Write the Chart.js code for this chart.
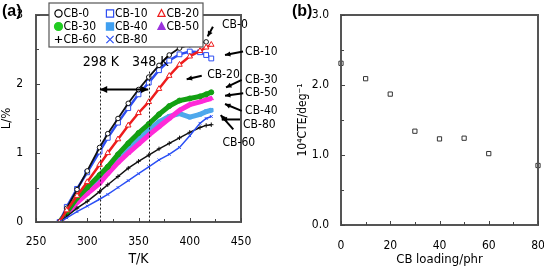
<!DOCTYPE html>
<html lang="en">
<head>
  <meta charset="UTF-8" />
  <title>Thermal expansion vs CB loading</title>
  <script src="https://cdn.jsdelivr.net/npm/chart.js"></script>
  <style>
    body {
      margin: 0;
      background: #ffffff;
    }

    .wrap {
      position: relative;
      width: 544px;
      height: 266px;
    }

    .panel {
      position: absolute;
      top: 0;
      height: 266px;
    }

    .panel canvas {
      position: relative;
      z-index: 1;
    }

    .deco {
      position: absolute;
      left: 0;
      top: 0;
      z-index: 0;
    }

    #panelA { left: 0; width: 285px; }
    #panelB { left: 285px; width: 259px; }
  </style>
</head>
<body>

  <div class="wrap">
    <div class="panel" id="panelA"><div class="deco"></div><canvas id="expChart"></canvas></div>
    <div class="panel" id="panelB"><div class="deco"></div><canvas id="cteChart"></canvas></div>
  </div>

  <script>
    // ---- data ----
    // panel (a): elongation L/% against temperature T/K
    const temps = [273, 280, 290, 300, 312, 320, 330, 340, 350, 360, 370, 380, 390, 400, 410, 416, 421];
    const cb0  = [0, 0.20, 0.47, 0.74, 1.08, 1.28, 1.50, 1.72, 1.92, 2.10, 2.27, 2.42, 2.52, 2.57, 2.60, 2.61, null];
    const cb10 = [0, 0.22, 0.48, 0.72, 1.02, 1.22, 1.44, 1.65, 1.85, 2.02, 2.20, 2.34, 2.43, 2.47, 2.46, 2.42, 2.37];
    const cb20 = [0, 0.17, 0.38, 0.58, 0.83, 1.00, 1.20, 1.40, 1.58, 1.74, 1.93, 2.12, 2.28, 2.40, 2.48, 2.53, 2.57];
    const cb30 = [0, 0.14, 0.35, 0.50, 0.68, 0.80, 0.98, 1.14, 1.29, 1.42, 1.56, 1.68, 1.76, 1.79, 1.82, 1.85, 1.88];
    const cb40 = [0, 0.13, 0.32, 0.47, 0.64, 0.76, 0.92, 1.06, 1.20, 1.33, 1.45, 1.53, 1.57, 1.52, 1.56, 1.60, 1.62];
    const cb50 = [0, 0.11, 0.28, 0.41, 0.56, 0.70, 0.86, 1.00, 1.13, 1.26, 1.38, 1.50, 1.62, 1.70, 1.74, 1.77, 1.79];
    const cb60 = [0, 0.08, 0.20, 0.30, 0.44, 0.54, 0.66, 0.78, 0.88, 0.97, 1.06, 1.14, 1.22, 1.30, 1.37, 1.40, 1.41];
    const cb80 = [0, 0.06, 0.15, 0.23, 0.33, 0.40, 0.50, 0.60, 0.70, 0.80, 0.90, 0.98, 1.08, 1.25, 1.43, 1.50, 1.53];
    const seriesNames = ['CB-0', 'CB-10', 'CB-20', 'CB-30', 'CB-40', 'CB-50', 'CB-60', 'CB-80'];
    const seriesValues = [cb0, cb10, cb20, cb30, cb40, cb50, cb60, cb80];
    const markLabels = ['298 K', '348 K'];
    const markTemps = [312.4, 360.5];

    // panel (b): CTE against CB loading
    const loadings = [0, 10, 20, 30, 40, 50, 60, 80];
    const cteValues = [2.31, 2.09, 1.87, 1.34, 1.23, 1.24, 1.02, 0.85];

    const FONT = "'Liberation Sans Narrow', 'DejaVu Sans Condensed', sans-serif";
    Chart.defaults.font.family = FONT;
    Chart.defaults.color = '#000';

    // look of each series: colour, marker, filled?, line width
    const looks = [
      { color: '#111111', style: 'circle',   fill: false, r: 2.3, line: 1.8 },
      { color: '#2d4df2', style: 'rect',     fill: false, r: 3.4, line: 2.5 },
      { color: '#ee1c1c', style: 'triangle', fill: false, r: 3.2, line: 2.5 },
      { color: '#13a013', style: 'circle',   fill: true,  r: 2.5, line: 5 },
      { color: '#4fa8ec', style: 'rect',     fill: true,  r: 2.5, line: 5 },
      { color: '#ff2ad8', style: 'triangle', fill: true,  r: 2.5, line: 5 },
      { color: '#111111', style: 'cross',    fill: false, r: 2.2, line: 1.5 },
      { color: '#2a4ff5', style: 'crossRot', fill: false, r: 2,   line: 1.5 }
    ];
    const legendColors = ['#000', '#2d4df2', '#ee1c1c', '#22cc22', '#3f9ff0', '#9b33dd', '#000', '#2a4ff5'];

    // panel tag per canvas
    const panelTags = { expChart: ['(a)', 2], cteChart: ['(b)', 7] };
    const frameColor = '#555';

    // curve labels at the right of panel (a): text pos and arrow tail/head, in data units
    const curveTags = [
      { t: 'CB-0',  tx: 431.5, ty: 2.86, a: [422.6, 2.83, 417.5, 2.69] },
      { t: 'CB-10', tx: 454,   ty: 2.46, a: [452,   2.47, 434.4, 2.42] },
      { t: 'CB-20', tx: 417,   ty: 2.13, a: [411.7, 2.12, 397,   2.07] },
      { t: 'CB-30', tx: 454,   ty: 2.06, a: [450.7, 2.06, 435.4, 1.95] },
      { t: 'CB-50', tx: 454,   ty: 1.865, a: [452.2, 1.865, 434.4, 1.83] },
      { t: 'CB-40', tx: 454,   ty: 1.61, a: [450.7, 1.61, 434.4, 1.71] },
      { t: 'CB-80', tx: 452,   ty: 1.405, a: [449,  1.486, 431.2, 1.486] },
      { t: 'CB-60', tx: 432,   ty: 1.14, a: [442.5, 1.343, 430.2, 1.55] }
    ];

    function drawMarker(ctx, style, x, y, r, color, fill) {
      ctx.save();
      ctx.strokeStyle = color;
      ctx.fillStyle = fill ? color : '#fff';
      ctx.lineWidth = 1.2;
      ctx.beginPath();
      if (style === 'circle') {
        ctx.arc(x, y, r, 0, Math.PI * 2);
      } else if (style === 'rect') {
        ctx.rect(x - r, y - r, r * 2, r * 2);
      } else if (style === 'triangle') {
        ctx.moveTo(x, y - r * 1.1);
        ctx.lineTo(x + r, y + r * 0.8);
        ctx.lineTo(x - r, y + r * 0.8);
        ctx.closePath();
      } else if (style === 'cross') {
        ctx.moveTo(x - r, y); ctx.lineTo(x + r, y);
        ctx.moveTo(x, y - r); ctx.lineTo(x, y + r);
        ctx.stroke();
        ctx.restore();
        return;
      } else if (style === 'crossRot') {
        ctx.moveTo(x - r, y - r); ctx.lineTo(x + r, y + r);
        ctx.moveTo(x + r, y - r); ctx.lineTo(x - r, y + r);
        ctx.stroke();
        ctx.restore();
        return;
      }
      ctx.fill();
      ctx.stroke();
      ctx.restore();
    }

    function drawArrow(ctx, x1, y1, x2, y2, head, both) {
      const ang = Math.atan2(y2 - y1, x2 - x1);
      ctx.beginPath();
      ctx.moveTo(x1, y1);
      ctx.lineTo(x2, y2);
      ctx.stroke();
      const tip = (x, y, a) => {
        ctx.beginPath();
        ctx.moveTo(x, y);
        ctx.lineTo(x - head * Math.cos(a - 0.45), y - head * Math.sin(a - 0.45));
        ctx.lineTo(x - head * Math.cos(a + 0.45), y - head * Math.sin(a + 0.45));
        ctx.closePath();
        ctx.fill();
      };
      tip(x2, y2, ang);
      if (both) tip(x1, y1, ang + Math.PI);
    }

    // plot box + inward ticks: drawn on the canvas, and again as divs under it
    const boxPlugin = {
      id: 'box',
      afterDraw(chart) {
        const { ctx } = chart;
        const a = chart.chartArea;
        ctx.save();
        ctx.strokeStyle = frameColor;
        ctx.lineWidth = 2;
        ctx.beginPath();
        ctx.moveTo(a.left, a.top); ctx.lineTo(a.right, a.top);
        ctx.lineTo(a.right, a.bottom); ctx.lineTo(a.left, a.bottom);
        ctx.closePath();
        ctx.stroke();

        ctx.strokeStyle = '#444';
        ctx.lineWidth = 1;
        ['x', 'y'].forEach(id => {
          const s = chart.scales[id];
          s.ticks.forEach(t => {
            const p = Math.round(s.getPixelForValue(t.value)) + 0.5;
            const len = t.label === '' ? 3 : 4;
            ctx.beginPath();
            if (id === 'x') { ctx.moveTo(p, a.bottom); ctx.lineTo(p, a.bottom - len); }
            else { ctx.moveTo(a.left, p); ctx.lineTo(a.left + len, p); }
            ctx.stroke();
          });
        });

        const tag = panelTags[chart.canvas.id];
        ctx.fillStyle = '#000';
        ctx.font = "bold 16px 'Liberation Sans', Arial, sans-serif";
        ctx.textBaseline = 'middle';
        ctx.textAlign = 'left';
        ctx.fillText(tag[0], tag[1], 12);
        ctx.restore();

        const deco = chart.canvas.parentNode.querySelector('.deco');
        if (deco) {
          deco.innerHTML = '<div style="position:absolute;left:' + (a.left - 1) + 'px;top:' + (a.top - 1) +
            'px;width:' + (a.right - a.left - 2) + 'px;height:' + (a.bottom - a.top - 2) +
            'px;border:2px solid ' + frameColor + ';"></div>';
        }
      }
    };

    // dashed temperature marks, arrow, curve tags and legend box of panel (a)
    const notesPlugin = {
      id: 'notes',
      afterDraw(chart) {
        const { ctx, chartArea: a } = chart;
        const xs = chart.scales.x, ys = chart.scales.y;
        const px = v => xs.getPixelForValue(v), py = v => ys.getPixelForValue(v);
        ctx.save();

        // dashed lines
        ctx.strokeStyle = '#222';
        ctx.lineWidth = 1;
        ctx.setLineDash([2, 2]);
        markTemps.forEach(t => {
          ctx.beginPath();
          ctx.moveTo(Math.round(px(t)) + 0.5, py(2.18));
          ctx.lineTo(Math.round(px(t)) + 0.5, a.bottom);
          ctx.stroke();
        });
        ctx.setLineDash([]);

        ctx.fillStyle = '#000';
        ctx.font = '14px ' + FONT;
        ctx.textAlign = 'center';
        ctx.textBaseline = 'middle';
        markLabels.forEach((lab, i) => {
          ctx.fillText(lab, px(markTemps[i]) + 1, py(2.31));
        });

        // double arrow between the two marks
        ctx.strokeStyle = '#000';
        ctx.fillStyle = '#000';
        ctx.lineWidth = 2.2;
        drawArrow(ctx, px(markTemps[0]), py(1.92), px(markTemps[1]) - 1, py(1.92), 8, true);

        // curve tags
        ctx.font = '12px ' + FONT;
        ctx.textAlign = 'left';
        ctx.lineWidth = 2;
        curveTags.forEach(c => {
          ctx.fillText(c.t, px(c.tx), py(c.ty));
          drawArrow(ctx, px(c.a[0]), py(c.a[1]), px(c.a[2]), py(c.a[3]), 6, false);
        });

        // legend box
        const bx = a.left + 13, by = 3, bw = 154, bh = 44;
        ctx.fillStyle = '#fff';
        ctx.fillRect(bx, by, bw, bh);
        ctx.strokeStyle = '#555';
        ctx.lineWidth = 1.2;
        ctx.strokeRect(bx, by, bw, bh);
        ctx.font = '12px ' + FONT;
        ctx.textBaseline = 'middle';
        seriesNames.forEach((name, i) => {
          const col = i % 3, row = Math.floor(i / 3);
          const mx = bx + 9.5 + col * 51.5, my = by + 10.5 + row * 13;
          const lk = looks[i];
          drawMarker(ctx, lk.style, mx, my, lk.style === 'circle' && lk.fill ? 4 : 3.6, legendColors[i], lk.fill);
          ctx.fillStyle = '#000';
          ctx.fillText(name, mx + 5, my + 0.5);
        });
        ctx.restore();
      }
    };

    const expChart = new Chart(document.getElementById('expChart'), {
      type: 'scatter',
      data: {
        datasets: seriesNames.map((name, i) => ({
          label: name,
          data: temps.map((t, j) => ({ x: t, y: seriesValues[i][j] })),
          showLine: true,
          borderColor: looks[i].color,
          borderWidth: looks[i].line,
          pointStyle: looks[i].style,
          pointRadius: looks[i].r,
          pointBorderWidth: 1,
          pointBorderColor: looks[i].color,
          pointBackgroundColor: looks[i].fill ? looks[i].color : '#fff',
          order: [3, 4, 1, 5, 7, 6, 2, 0][i]
        }))
      },
      options: {
        responsive: true,
        maintainAspectRatio: false,
        animation: false,
        layout: { padding: { top: 15, right: 44, bottom: 0, left: 0 } },
        plugins: {
          legend: { display: false }
        },
        scales: {
          x: {
            type: 'linear',
            min: 250, max: 450,
            ticks: {
              stepSize: 25,
              autoSkip: false,
              maxRotation: 0,
              padding: 5,
              font: { size: 12 },
              callback: v => (v % 50 === 0 ? String(v) : '')
            },
            grid: { display: false },
            border: { display: true, color: frameColor, width: 2 },
            title: { display: true, text: 'T/K', font: { size: 14, lineHeight: 1 }, padding: { top: 0, bottom: 0 } },
            afterFit: s => { s.height = 44; }
          },
          y: {
            min: 0, max: 3,
            ticks: {
              stepSize: 0.5,
              autoSkip: false,
              padding: 5,
              font: { size: 12 },
              callback: v => (Number.isInteger(v) ? String(v) : '')
            },
            grid: { display: false },
            border: { display: true, color: frameColor, width: 2 },
            title: { display: true, text: 'L/%', font: { size: 13, lineHeight: 1 }, padding: { top: 0, bottom: 0 } },
            afterFit: s => { s.width = 36; }
          }
        }
      },
      plugins: [boxPlugin, notesPlugin]
    });

    const cteChart = new Chart(document.getElementById('cteChart'), {
      type: 'scatter',
      data: {
        datasets: [{
          label: 'CTE',
          data: loadings.map((l, i) => ({ x: l, y: cteValues[i] })),
          pointStyle: 'rect',
          pointRadius: 3,
          pointBorderWidth: 1,
          pointBorderColor: '#333',
          pointBackgroundColor: '#fff',
          clip: false
        }]
      },
      options: {
        responsive: true,
        maintainAspectRatio: false,
        animation: false,
        layout: { padding: { top: 15, right: 0, bottom: 0, left: 0 } },
        plugins: {
          legend: { display: false }
        },
        scales: {
          x: {
            type: 'linear',
            min: 0, max: 80,
            ticks: {
              stepSize: 10,
              autoSkip: false,
              maxRotation: 0,
              padding: 6,
              font: { size: 12 },
              callback: v => (v % 20 === 0 ? String(v) : '')
            },
            grid: { display: false },
            border: { display: true, color: frameColor, width: 2 },
            title: { display: true, text: 'CB loading/phr', font: { size: 13, lineHeight: 1 }, padding: { top: 0, bottom: 0 } },
            afterFit: s => { s.height = 41; s.paddingRight = 6; }
          },
          y: {
            min: 0, max: 3,
            ticks: {
              stepSize: 0.5,
              autoSkip: false,
              padding: 4,
              font: { size: 12 },
              callback: v => (v % 1 === 0 ? v.toFixed(1) : '')
            },
            grid: { display: false },
            border: { display: true, color: frameColor, width: 2 },
            title: { display: true, text: '10⁴CTE/deg⁻¹', font: { size: 12, lineHeight: 1.2 }, padding: { top: 11, bottom: 0 } },
            afterFit: s => { s.width = 56; }
          }
        }
      },
      plugins: [boxPlugin]
    });
  </script>
</body>
</html>
